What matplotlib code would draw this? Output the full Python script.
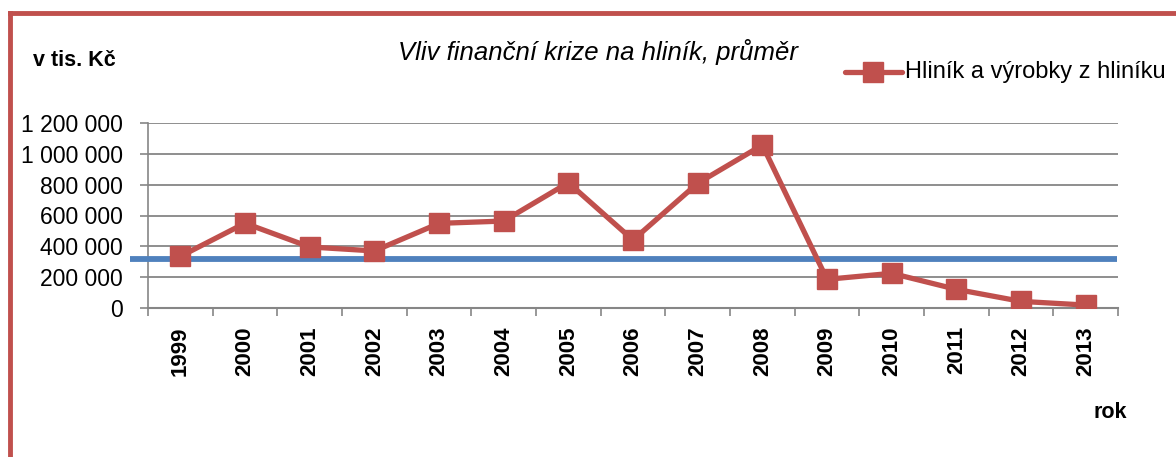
import matplotlib
matplotlib.use("Agg")
import matplotlib.pyplot as plt
from matplotlib.lines import Line2D
from matplotlib.ticker import FuncFormatter, FixedLocator

years = ["1999", "2000", "2001", "2002", "2003", "2004", "2005", "2006",
         "2007", "2008", "2009", "2010", "2011", "2012", "2013"]
values = [335000, 550000, 396000, 370000, 549000, 564000, 813000, 441000,
          809000, 1057000, 186000, 225000, 121000, 43000, 19000]
average_level = 320000
series_name = "Hliník a výrobky z hliníku"
title = "Vliv finanční krize na hliník, průměr"
y_label = "v tis. Kč"
x_label = "rok"

RED = "#C0504D"
BLUE = "#4F81BD"
GRID = "#868686"

plt.rcParams['font.family'] = ['Liberation Sans', 'DejaVu Sans']

fig = plt.figure(figsize=(11.76, 4.57), dpi=100)
ax = fig.add_axes([148/1176, 1-308/457, (1118-148)/1176, (308-123)/457])

x = list(range(len(years)))
ax.plot(x, values, color=RED, lw=3.8, marker='s', markersize=14.5,
        markerfacecolor=RED, markeredgecolor=RED, zorder=4,
        solid_joinstyle='round')

ax.set_xlim(-0.5, len(years) - 0.5)
ax.set_ylim(0, 1200000)
ax.set_yticks(range(0, 1200001, 200000))
ax.yaxis.set_major_formatter(FuncFormatter(lambda v, p: f"{int(v):,}".replace(",", " ")))
ax.grid(axis='y', color=GRID, lw=1.3, zorder=0)
ax.set_xticks(x)
ax.set_xticklabels(years, rotation=90, fontweight='bold', fontsize=16)
ax.xaxis.set_minor_locator(FixedLocator([i - 0.5 for i in range(len(years) + 1)]))
ax.tick_params(axis='x', which='major', length=0, pad=13)
ax.tick_params(axis='x', which='minor', length=6, color=GRID, width=1.2)
ax.tick_params(axis='y', length=6, color=GRID, width=1.2, labelsize=16.5, pad=12)
for s in ['top', 'right']:
    ax.spines[s].set_visible(False)
ax.spines['left'].set_color(GRID)
ax.spines['bottom'].set_color(GRID)
ax.spines['left'].set_linewidth(1.2)
ax.spines['bottom'].set_linewidth(1.5)

# average line (blue), extends slightly left of axis
ax.plot([-0.78, 14.48], [average_level, average_level], color=BLUE, lw=4.2,
        zorder=3, clip_on=False, solid_capstyle='butt')

fig.text(598/1176, 1-52/457, title, style='italic', fontsize=18.5,
         ha='center', va='center')
fig.text(33/1176, 1-60/457, y_label, fontweight='bold', fontsize=15.5,
         ha='left', va='center')
fig.text(1110/1176, 1-412/457, x_label, fontweight='bold', fontsize=15.5,
         ha='center', va='center')

# legend
fig.add_artist(Line2D([845/1176, 902/1176], [1-72/457, 1-72/457], color=RED, lw=3.8,
                      transform=fig.transFigure, solid_capstyle='round'))
fig.add_artist(Line2D([873/1176], [1-72/457], color=RED, marker='s', markersize=14.5,
                      transform=fig.transFigure))
fig.text(905/1176, 1-72/457, series_name, fontsize=17, ha='left', va='center')

# red frame
fig.add_artist(Line2D([10/1176, 10/1176], [0, 1-13/457], color=RED, lw=3.5,
                      transform=fig.transFigure, solid_capstyle='projecting'))
fig.add_artist(Line2D([10/1176, 1], [1-13/457, 1-13/457], color=RED, lw=3.5,
                      transform=fig.transFigure, solid_capstyle='projecting'))

fig.savefig("out.png", dpi=100)
